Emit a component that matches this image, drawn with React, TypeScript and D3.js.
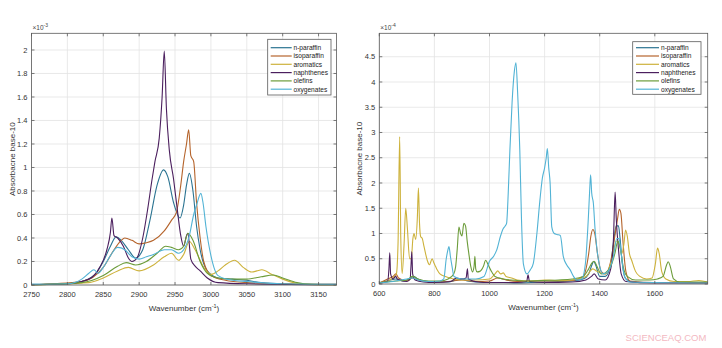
import React from "react";
import * as d3 from "d3";

type Pt = [number, number];

const seriesNames = ["n-paraffin", "isoparaffin", "aromatics", "naphthenes", "olefins", "oxygenates"];
const seriesColors = ["#2a7391", "#b5642c", "#cdb23c", "#4b1f5e", "#6c9c3a", "#52b3d5"];

// Left panel: 2750-3175 cm^-1, absorbance x1e-3
const leftXTicks = [2750, 2800, 2850, 2900, 2950, 3000, 3050, 3100, 3150];
const leftYTicks = [0, 0.2, 0.4, 0.6, 0.8, 1, 1.2, 1.4, 1.6, 1.8, 2];

const leftNParaffin: Pt[] = [[2750,0.005],[2800,0.01],[2820,0.03],[2840,0.1],[2850,0.2],[2860,0.33],[2868,0.41],[2875,0.38],[2885,0.3],[2895,0.23],[2905,0.3],[2915,0.55],[2925,0.85],[2934,0.98],[2940,0.92],[2948,0.7],[2957,0.57],[2962,0.68],[2966,0.85],[2970,0.95],[2975,0.8],[2980,0.5],[2985,0.3],[2995,0.12],[3010,0.06],[3030,0.05],[3050,0.04],[3070,0.02],[3100,0.01],[3175,0.005]];
const leftIsoparaffin: Pt[] = [[2750,0.003],[2820,0.03],[2850,0.15],[2865,0.3],[2875,0.38],[2880,0.4],[2890,0.38],[2900,0.35],[2910,0.36],[2920,0.38],[2935,0.46],[2945,0.55],[2952,0.62],[2958,0.85],[2962,1.05],[2966,1.2],[2969,1.32],[2972,1.1],[2976,1.05],[2980,0.7],[2985,0.4],[2990,0.2],[3000,0.08],[3020,0.04],[3050,0.02],[3100,0.01],[3175,0.005]];
const leftAromatics: Pt[] = [[2750,0.002],[2830,0.02],[2850,0.06],[2870,0.12],[2885,0.15],[2900,0.12],[2920,0.17],[2935,0.24],[2945,0.27],[2955,0.21],[2962,0.26],[2970,0.37],[2978,0.3],[2990,0.15],[3000,0.09],[3010,0.12],[3020,0.17],[3033,0.21],[3045,0.15],[3057,0.11],[3064,0.12],[3071,0.13],[3085,0.09],[3100,0.05],[3115,0.02],[3130,0.005],[3175,0.002]];
const leftNaphthenes: Pt[] = [[2750,0.002],[2800,0.01],[2830,0.05],[2845,0.15],[2855,0.3],[2860,0.45],[2862,0.57],[2865,0.42],[2870,0.4],[2878,0.33],[2885,0.23],[2890,0.2],[2897,0.23],[2905,0.4],[2912,0.65],[2918,0.9],[2922,1.05],[2928,1.25],[2932,1.6],[2935,1.99],[2938,1.5],[2942,1.15],[2948,0.9],[2953,0.65],[2958,0.42],[2962,0.33],[2966,0.42],[2968,0.44],[2972,0.22],[2978,0.16],[2985,0.12],[2995,0.06],[3010,0.02],[3050,0.01],[3175,0.002]];
const leftOlefins: Pt[] = [[2750,0.002],[2820,0.02],[2850,0.08],[2870,0.16],[2882,0.19],[2895,0.17],[2910,0.2],[2925,0.27],[2937,0.33],[2945,0.32],[2955,0.3],[2962,0.33],[2968,0.44],[2975,0.38],[2985,0.2],[2995,0.1],[3010,0.06],[3030,0.05],[3050,0.05],[3070,0.07],[3087,0.085],[3100,0.06],[3120,0.02],[3140,0.005],[3175,0.002]];
const leftOxygenates: Pt[] = [[2750,0.005],[2800,0.01],[2820,0.05],[2830,0.1],[2837,0.13],[2843,0.1],[2850,0.15],[2860,0.25],[2870,0.32],[2880,0.3],[2890,0.24],[2900,0.22],[2910,0.24],[2920,0.26],[2935,0.3],[2945,0.3],[2955,0.27],[2962,0.3],[2970,0.42],[2976,0.6],[2980,0.68],[2986,0.78],[2989,0.7],[2993,0.5],[3000,0.25],[3010,0.08],[3030,0.04],[3050,0.03],[3100,0.01],[3175,0.005]];

// Right panel: 600-1792 cm^-1, absorbance x1e-4
const rightXTicks = [600, 800, 1000, 1200, 1400, 1600];
const rightYTicks = [0, 0.5, 1, 1.5, 2, 2.5, 3, 3.5, 4, 4.5];

const rightNParaffin: Pt[] = [[600,0.02],[620,0.05],[640,0.08],[660,0.1],[690,0.06],[710,0.1],[725,0.15],[740,0.1],[760,0.06],[800,0.04],[850,0.04],[880,0.08],[900,0.1],[920,0.06],[960,0.04],[1000,0.03],[1050,0.03],[1100,0.02],[1150,0.03],[1200,0.04],[1250,0.05],[1300,0.06],[1340,0.1],[1360,0.2],[1372,0.38],[1378,0.45],[1385,0.38],[1400,0.15],[1420,0.15],[1440,0.4],[1452,0.9],[1460,1.15],[1468,1.15],[1474,0.9],[1482,0.4],[1495,0.1],[1520,0.04],[1600,0.03],[1700,0.03],[1792,0.03]];
const rightIsoparaffin: Pt[] = [[600,0.02],[630,0.1],[650,0.15],[660,0.2],[670,0.12],[700,0.06],[720,0.12],[740,0.08],[800,0.04],[850,0.05],[900,0.08],[950,0.05],[1000,0.06],[1030,0.12],[1060,0.08],[1100,0.05],[1150,0.06],[1200,0.06],[1250,0.06],[1300,0.07],[1340,0.15],[1360,0.6],[1368,0.95],[1375,1.08],[1382,1.0],[1392,0.6],[1405,0.25],[1420,0.2],[1440,0.45],[1455,0.95],[1465,1.3],[1471,1.48],[1477,1.4],[1485,0.8],[1495,0.25],[1510,0.06],[1600,0.03],[1792,0.03]];
const rightAromatics: Pt[] = [[600,0.02],[630,0.06],[650,0.12],[662,0.2],[668,0.8],[674,2.92],[678,0.9],[683,0.21],[690,0.8],[696,1.5],[702,1.1],[710,0.5],[716,0.5],[722,0.9],[726,1.0],[732,0.88],[738,1.3],[742,1.9],[746,1.2],[750,0.94],[756,0.9],[762,0.75],[768,0.6],[774,0.47],[782,0.38],[792,0.5],[798,0.42],[804,0.35],[810,0.28],[820,0.2],[840,0.15],[870,0.1],[900,0.08],[950,0.08],[1000,0.1],[1020,0.2],[1030,0.26],[1040,0.2],[1050,0.22],[1060,0.15],[1080,0.12],[1100,0.08],[1150,0.06],[1200,0.08],[1250,0.07],[1300,0.08],[1350,0.15],[1375,0.3],[1390,0.25],[1420,0.2],[1445,0.5],[1460,0.85],[1470,0.8],[1480,0.6],[1488,0.8],[1494,1.07],[1500,0.95],[1508,0.6],[1516,0.47],[1530,0.25],[1546,0.15],[1570,0.1],[1590,0.12],[1602,0.4],[1610,0.71],[1616,0.6],[1625,0.25],[1640,0.1],[1670,0.05],[1720,0.05],[1760,0.07],[1792,0.04]];
const rightNaphthenes: Pt[] = [[600,0.02],[630,0.05],[635,0.3],[638,0.62],[641,0.2],[650,0.1],[660,0.15],[665,0.1],[700,0.05],[712,0.1],[715,0.35],[718,0.64],[721,0.2],[730,0.08],[760,0.04],[800,0.03],[860,0.05],[880,0.12],[900,0.1],[915,0.12],[920,0.3],[923,0.1],[960,0.04],[1000,0.03],[1100,0.03],[1135,0.05],[1140,0.18],[1145,0.05],[1200,0.03],[1300,0.04],[1350,0.08],[1370,0.15],[1380,0.2],[1395,0.1],[1420,0.08],[1440,0.3],[1450,0.9],[1456,1.82],[1460,1.3],[1468,0.7],[1478,0.2],[1495,0.05],[1600,0.02],[1792,0.02]];
const rightOlefins: Pt[] = [[600,0.03],[640,0.05],[660,0.06],[700,0.08],[720,0.15],[740,0.1],[780,0.06],[820,0.06],[850,0.1],[870,0.2],[877,0.34],[883,0.7],[889,1.13],[895,1.0],[900,0.95],[907,1.2],[913,1.15],[919,0.85],[925,0.6],[932,0.35],[938,0.24],[944,0.35],[947,0.55],[950,0.3],[955,0.24],[965,0.25],[978,0.35],[986,0.47],[995,0.38],[1005,0.27],[1020,0.15],[1050,0.1],[1100,0.07],[1150,0.06],[1200,0.07],[1250,0.08],[1300,0.1],[1340,0.15],[1360,0.3],[1372,0.42],[1380,0.45],[1390,0.35],[1405,0.2],[1420,0.22],[1440,0.35],[1455,0.6],[1466,0.85],[1475,0.7],[1485,0.35],[1500,0.15],[1530,0.08],[1580,0.08],[1610,0.1],[1630,0.15],[1643,0.38],[1649,0.44],[1656,0.35],[1668,0.1],[1690,0.04],[1792,0.04]];
const rightOxygenates: Pt[] = [[600,0.02],[650,0.05],[700,0.1],[720,0.12],[740,0.08],[780,0.05],[820,0.06],[834,0.1],[843,0.5],[848,0.65],[853,0.74],[858,0.55],[864,0.35],[871,0.15],[900,0.1],[950,0.1],[980,0.15],[1000,0.45],[1015,0.55],[1026,0.67],[1040,0.95],[1050,1.1],[1057,1.15],[1062,1.2],[1068,1.8],[1074,2.65],[1082,3.6],[1090,4.2],[1096,4.38],[1102,3.8],[1110,2.65],[1116,1.3],[1123,0.4],[1136,0.2],[1148,0.28],[1159,0.41],[1172,1.0],[1183,1.66],[1192,2.1],[1200,2.3],[1206,2.5],[1210,2.68],[1215,2.3],[1220,2.0],[1226,1.13],[1235,1.0],[1245,0.98],[1257,0.96],[1268,0.54],[1280,0.38],[1293,0.28],[1305,0.15],[1317,0.08],[1335,0.1],[1348,0.4],[1359,1.33],[1364,1.9],[1367,2.16],[1371,1.8],[1377,1.6],[1383,1.1],[1389,0.74],[1400,0.35],[1413,0.2],[1430,0.25],[1450,0.55],[1462,0.9],[1470,0.9],[1478,0.6],[1490,0.15],[1510,0.04],[1792,0.02]];

const leftSeries = [leftNParaffin, leftIsoparaffin, leftAromatics, leftNaphthenes, leftOlefins, leftOxygenates];
const rightSeries = [rightNParaffin, rightIsoparaffin, rightAromatics, rightNaphthenes, rightOlefins, rightOxygenates];

const FONT = "'Liberation Sans', Arial, sans-serif";

interface PanelProps {
  x0: number; x1: number; y0: number; y1: number;
  xDomain: [number, number]; yDomain: [number, number];
  xTicks: number[]; yTicks: number[];
  series: Pt[][];
  exponent: string;
  legend: { x0: number; x1: number; y0: number; y1: number; lineX0: number; lineX1: number; textX: number; rowY0: number; rowStep: number };
  yLabelX: number;
}

function Panel(p: PanelProps) {
  const xs = d3.scaleLinear().domain(p.xDomain).range([p.x0, p.x1]);
  const ys = d3.scaleLinear().domain(p.yDomain).range([p.y1, p.y0]);
  const line = d3.line<Pt>().x(d => xs(d[0])).y(d => ys(d[1])).curve(d3.curveMonotoneX);
  const tl = 3;
  const axisColor = "#5a5a5a";
  return (
    <g>
      <rect x={p.x0} y={p.y0} width={p.x1 - p.x0} height={p.y1 - p.y0} fill="#fff" />
      {p.xTicks.map(t => (
        <line key={"gx" + t} x1={xs(t)} x2={xs(t)} y1={p.y0} y2={p.y1} stroke="#e3e3e3" strokeWidth={0.8} />
      ))}
      {p.yTicks.map(t => (
        <line key={"gy" + t} x1={p.x0} x2={p.x1} y1={ys(t)} y2={ys(t)} stroke="#e3e3e3" strokeWidth={0.8} />
      ))}
      {p.series.map((s, i) => (
        <path key={"s" + i} d={line(s) || ""} fill="none" stroke={seriesColors[i]} strokeWidth={1.1} strokeLinejoin="round" />
      ))}
      <rect x={p.x0} y={p.y0} width={p.x1 - p.x0} height={p.y1 - p.y0} fill="none" stroke={axisColor} strokeWidth={0.8} />
      {p.xTicks.map(t => (
        <g key={"tx" + t}>
          <line x1={xs(t)} x2={xs(t)} y1={p.y1} y2={p.y1 - tl} stroke={axisColor} strokeWidth={0.8} />
          <line x1={xs(t)} x2={xs(t)} y1={p.y0} y2={p.y0 + tl} stroke={axisColor} strokeWidth={0.8} />
          <text x={xs(t)} y={p.y1 + 12} fontSize={7.5} textAnchor="middle" fill="#333" fontFamily={FONT}>{t}</text>
        </g>
      ))}
      {p.yTicks.map(t => (
        <g key={"ty" + t}>
          <line x1={p.x0} x2={p.x0 + tl} y1={ys(t)} y2={ys(t)} stroke={axisColor} strokeWidth={0.8} />
          <line x1={p.x1} x2={p.x1 - tl} y1={ys(t)} y2={ys(t)} stroke={axisColor} strokeWidth={0.8} />
          <text x={p.x0 - 4} y={ys(t) + 2.7} fontSize={7.5} textAnchor="end" fill="#333" fontFamily={FONT}>{t}</text>
        </g>
      ))}
      <text x={p.x0 + 1} y={p.y0 - 3} fontSize={6.5} fill="#444" fontFamily={FONT}>
        ×10<tspan dy={-3} fontSize={5}>{p.exponent}</tspan>
      </text>
      <text x={(p.x0 + p.x1) / 2} y={p.y1 + 26} fontSize={8} textAnchor="middle" fill="#333" fontFamily={FONT}>
        Wavenumber (cm<tspan dy={-3} fontSize={5.5}>-1</tspan><tspan dy={3}>)</tspan>
      </text>
      <text transform={`translate(${p.yLabelX},${(p.y0 + p.y1) / 2}) rotate(-90)`} fontSize={8} textAnchor="middle" fill="#333" fontFamily={FONT}>
        Absorbacne base-10
      </text>
      <rect x={p.legend.x0} y={p.legend.y0} width={p.legend.x1 - p.legend.x0} height={p.legend.y1 - p.legend.y0} fill="#fff" stroke={axisColor} strokeWidth={0.8} />
      {seriesNames.map((n, i) => {
        const y = p.legend.rowY0 + i * p.legend.rowStep;
        return (
          <g key={"lg" + n}>
            <line x1={p.legend.lineX0} x2={p.legend.lineX1} y1={y} y2={y} stroke={seriesColors[i]} strokeWidth={1.2} />
            <text x={p.legend.textX} y={y + 2.3} fontSize={6.6} fill="#222" fontFamily={FONT}>{n}</text>
          </g>
        );
      })}
    </g>
  );
}

export default function App() {
  return (
    <svg width={722} height={348} style={{ position: "absolute", left: 0, top: 0, background: "#fff" }}>
      <rect x={0} y={0} width={722} height={348} fill="#fff" />
      <Panel
        x0={31.5} x1={336.5} y0={33.3} y1={285}
        xDomain={[2750, 3175]} yDomain={[0, 2.142]}
        xTicks={leftXTicks} yTicks={leftYTicks}
        series={leftSeries}
        exponent="-3"
        legend={{ x0: 267.7, x1: 331, y0: 39.3, y1: 95, lineX0: 270.7, lineX1: 291.7, textX: 293.5, rowY0: 47.7, rowStep: 8.3 }}
        yLabelX={15}
      />
      <Panel
        x0={379.3} x1={707.7} y0={33.3} y1={284}
        xDomain={[600, 1792]} yDomain={[0, 4.964]}
        xTicks={rightXTicks} yTicks={rightYTicks}
        series={rightSeries}
        exponent="-4"
        legend={{ x0: 632.7, x1: 701, y0: 41.7, y1: 94.3, lineX0: 636, lineX1: 659, textX: 661, rowY0: 47.7, rowStep: 8.3 }}
        yLabelX={362}
      />
      <text x={666} y={341} fontSize={9.5} textAnchor="middle" fill="#f3b9c2" fontFamily={FONT}>SCIENCEAQ.COM</text>
    </svg>
  );
}
